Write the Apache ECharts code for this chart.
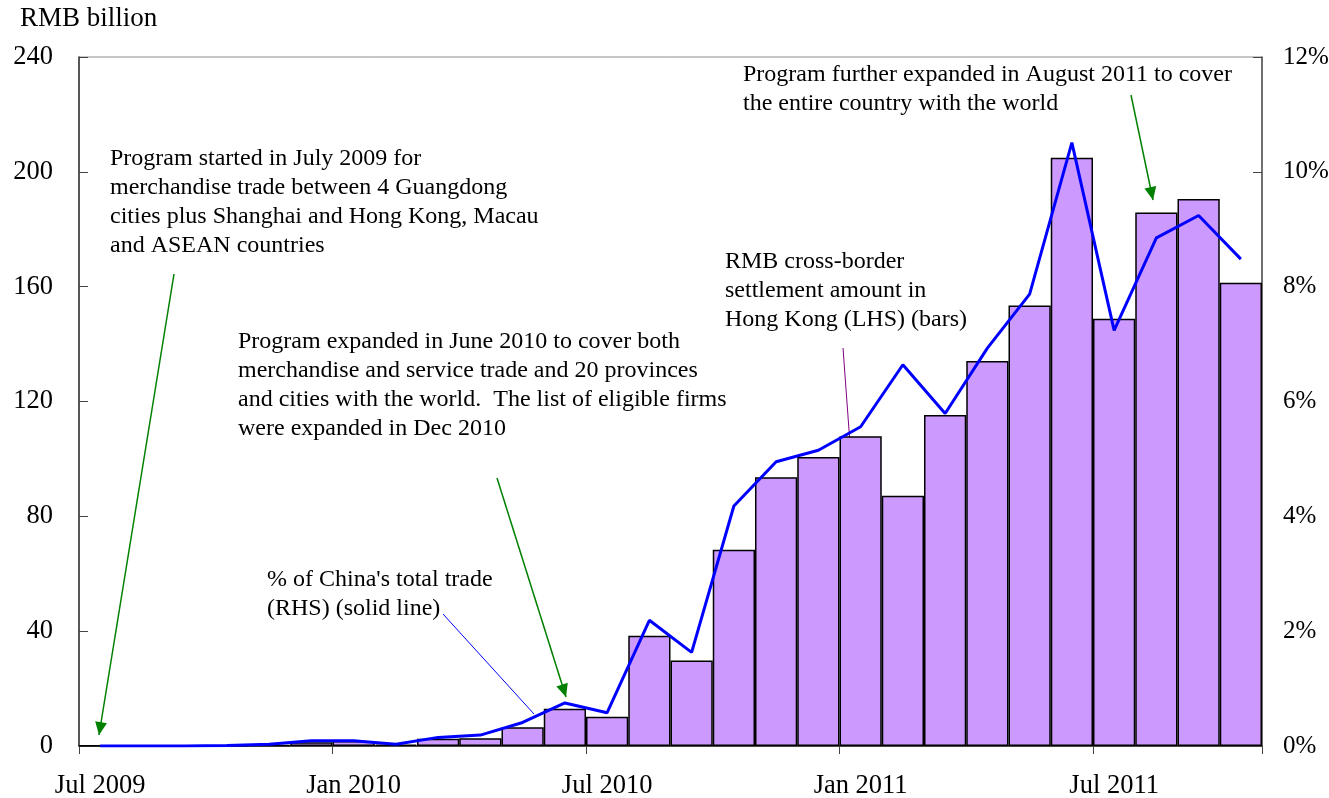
<!DOCTYPE html>
<html>
<head>
<meta charset="UTF-8">
<title>RMB cross-border settlement</title>
<script src="https://cdn.jsdelivr.net/npm/echarts@6/dist/echarts.min.js"></script>
<style>
  html, body { margin: 0; padding: 0; background: #fff; }
</style>
</head>
<body>
<div id="main" style="width: 1329px; height: 798px;"></div>

<script type="text/javascript">
// months Jul 2009 .. Oct 2011
var months = [
  'Jul 2009', 'Aug 2009', 'Sep 2009', 'Oct 2009', 'Nov 2009', 'Dec 2009',
  'Jan 2010', 'Feb 2010', 'Mar 2010', 'Apr 2010', 'May 2010', 'Jun 2010',
  'Jul 2010', 'Aug 2010', 'Sep 2010', 'Oct 2010', 'Nov 2010', 'Dec 2010',
  'Jan 2011', 'Feb 2011', 'Mar 2011', 'Apr 2011', 'May 2011', 'Jun 2011',
  'Jul 2011', 'Aug 2011', 'Sep 2011', 'Oct 2011'
];
// settlement amount, RMB billion (LHS, bars)
var settlement = [
  0.1, 0.1, 0.1, 0.1, 0.4, 1.3,
  1.7, 0.5, 2.5, 2.7, 6.5, 13.0,
  10.2, 38.4, 29.8, 68.4, 93.6, 100.7,
  107.9, 87.2, 115.3, 134.1, 153.4, 204.9,
  148.8, 185.8, 190.5, 161.4
];
// % of China's total trade (RHS, line)
var shareOfTrade = [
  0.0, 0.0, 0.0, 0.01, 0.03, 0.09,
  0.09, 0.03, 0.15, 0.19, 0.41, 0.75,
  0.58, 2.19, 1.63, 4.18, 4.95, 5.15,
  5.56, 6.64, 5.79, 6.93, 7.87, 10.51,
  7.24, 8.85, 9.24, 8.48
];
var leftTicks = [0, 240, 40];   // min, max, interval
var rightTicks = [0, 12, 2];

var serif = '"Liberation Serif", "Times New Roman", serif';

// little helper for the annotation arrows
function arrow(x1, y1, x2, y2, color, width, head) {
  var items = [{
    type: 'line',
    shape: { x1: x1, y1: y1, x2: x2, y2: y2 },
    style: { stroke: color, lineWidth: width }
  }];
  if (head) {
    var a = Math.atan2(y2 - y1, x2 - x1);
    var len = 13, hw = 6;
    var bx = x2 - len * Math.cos(a), by = y2 - len * Math.sin(a);
    items.push({
      type: 'polygon',
      shape: { points: [
        [x2, y2],
        [bx + hw * Math.sin(a), by - hw * Math.cos(a)],
        [bx - hw * Math.sin(a), by + hw * Math.cos(a)]
      ] },
      style: { fill: color }
    });
  }
  return { type: 'group', children: items };
}

function note(x, y, txt) {
  return {
    type: 'text', left: x, top: y,
    style: { text: txt, font: '24px ' + serif, fill: '#000', lineHeight: 29 }
  };
}

var myChart = echarts.init(document.getElementById('main'));

var option = {
  animation: false,
  grid: {
    left: 79, right: 67, top: 57, bottom: 52,
    outerBoundsMode: 'none',
    show: true, borderColor: '#8c8c8c', borderWidth: 1
  },
  xAxis: {
    type: 'category',
    data: months,
    boundaryGap: true,
    axisLine: { lineStyle: { color: '#222', width: 1.5 } },
    axisTick: { show: true, interval: 5, inside: false, length: 8, lineStyle: { color: '#444' } },
    axisLabel: {
      interval: 5, margin: 27,
      fontFamily: serif, fontSize: 26.5, color: '#000'
    }
  },
  yAxis: [{
    type: 'value',
    min: leftTicks[0], max: leftTicks[1], interval: leftTicks[2],
    splitLine: { show: false },
    axisLine: { show: true, lineStyle: { color: '#333', width: 1.5 } },
    axisTick: { show: true, inside: true, length: 9, lineStyle: { color: '#444' } },
    axisLabel: { margin: 26, fontFamily: serif, fontSize: 26.5, color: '#000' },
    name: 'RMB billion',
    nameLocation: 'end',
    nameGap: 25,
    nameTextStyle: { fontFamily: serif, fontSize: 27, color: '#000', align: 'left', padding: [0, 0, 0, -59] }
  }, {
    type: 'value',
    position: 'right',
    min: rightTicks[0], max: rightTicks[1], interval: rightTicks[2],
    splitLine: { show: false },
    axisLine: { show: true, lineStyle: { color: '#555', width: 1.5 } },
    axisTick: { show: true, inside: true, length: 9, lineStyle: { color: '#444' } },
    axisLabel: { margin: 21, fontFamily: serif, fontSize: 25, color: '#000', formatter: '{value}%' }
  }],
  series: [{
    name: 'RMB cross-border settlement amount in Hong Kong',
    type: 'bar',
    data: settlement,
    barCategoryGap: '0%',
    itemStyle: { color: '#CC99FF', borderColor: '#000', borderWidth: 1.5 }
  }, {
    name: "% of China's total trade",
    type: 'line',
    yAxisIndex: 1,
    data: shareOfTrade,
    symbol: 'none',
    lineStyle: { color: '#0000FF', width: 3 }
  }],
  graphic: [
    note(110, 144, 'Program started in July 2009 for\nmerchandise trade between 4 Guangdong\ncities plus Shanghai and Hong Kong, Macau\nand ASEAN countries'),
    note(238, 327, 'Program expanded in June 2010 to cover both\nmerchandise and service trade and 20 provinces\nand cities with the world.  The list of eligible firms\nwere expanded in Dec 2010'),
    note(743, 60, 'Program further expanded in August 2011 to cover\nthe entire country with the world'),
    note(725, 247, 'RMB cross-border\nsettlement amount in\nHong Kong (LHS) (bars)'),
    note(267, 565, "% of China's total trade\n(RHS) (solid line)"),
    arrow(174, 274, 99, 735, '#008000', 1.5, true),
    arrow(497, 478, 566, 697, '#008000', 1.5, true),
    arrow(1131, 95, 1153, 200, '#008000', 1.5, true),
    arrow(843, 348, 855, 512, '#800080', 1, false),
    arrow(443, 614, 534, 714, '#0000FF', 1, false)
  ]
};
myChart.setOption(option);
</script>
</body>
</html>
